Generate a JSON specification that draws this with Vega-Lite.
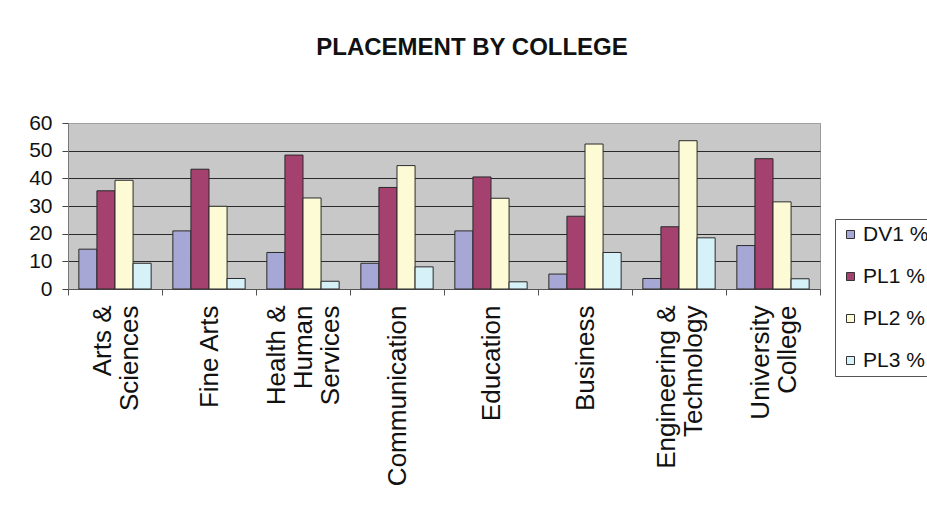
{
  "$schema": "https://vega.github.io/schema/vega-lite/v6.json",
  "width": 752,
  "height": 166,
  "autosize": {"type": "none"},
  "padding": {"left": 68, "top": 123, "right": 107, "bottom": 221},
  "background": "white",
  "title": {
    "text": "PLACEMENT BY COLLEGE",
    "font": "Liberation Sans Narrow, Arial Narrow, Liberation Sans",
    "fontSize": 24,
    "fontWeight": "bold",
    "color": "#111111",
    "anchor": "middle",
    "dx": 28,
    "offset": 52
  },
  "data": {
    "values": [
      {"college": "Arts & Sciences", "series": "DV1 %", "value": 14.4},
      {"college": "Arts & Sciences", "series": "PL1 %", "value": 35.5},
      {"college": "Arts & Sciences", "series": "PL2 %", "value": 39.3},
      {"college": "Arts & Sciences", "series": "PL3 %", "value": 9.3},
      {"college": "Fine Arts", "series": "DV1 %", "value": 21},
      {"college": "Fine Arts", "series": "PL1 %", "value": 43.3},
      {"college": "Fine Arts", "series": "PL2 %", "value": 29.9},
      {"college": "Fine Arts", "series": "PL3 %", "value": 3.8},
      {"college": "Health & Human Services", "series": "DV1 %", "value": 13.2},
      {"college": "Health & Human Services", "series": "PL1 %", "value": 48.4},
      {"college": "Health & Human Services", "series": "PL2 %", "value": 32.9},
      {"college": "Health & Human Services", "series": "PL3 %", "value": 2.8},
      {"college": "Communication", "series": "DV1 %", "value": 9.3},
      {"college": "Communication", "series": "PL1 %", "value": 36.7},
      {"college": "Communication", "series": "PL2 %", "value": 44.6},
      {"college": "Communication", "series": "PL3 %", "value": 8},
      {"college": "Education", "series": "DV1 %", "value": 21},
      {"college": "Education", "series": "PL1 %", "value": 40.5},
      {"college": "Education", "series": "PL2 %", "value": 32.8},
      {"college": "Education", "series": "PL3 %", "value": 2.6},
      {"college": "Business", "series": "DV1 %", "value": 5.4},
      {"college": "Business", "series": "PL1 %", "value": 26.3},
      {"college": "Business", "series": "PL2 %", "value": 52.4},
      {"college": "Business", "series": "PL3 %", "value": 13.2},
      {"college": "Engineering & Technology", "series": "DV1 %", "value": 3.8},
      {"college": "Engineering & Technology", "series": "PL1 %", "value": 22.5},
      {"college": "Engineering & Technology", "series": "PL2 %", "value": 53.6},
      {"college": "Engineering & Technology", "series": "PL3 %", "value": 18.5},
      {"college": "University College", "series": "DV1 %", "value": 15.7},
      {"college": "University College", "series": "PL1 %", "value": 47.1},
      {"college": "University College", "series": "PL2 %", "value": 31.5},
      {"college": "University College", "series": "PL3 %", "value": 3.7}
    ]
  },
  "mark": {"type": "bar", "stroke": "#2a2a2a", "strokeWidth": 1},
  "encoding": {
    "x": {
      "field": "college",
      "type": "nominal",
      "sort": null,
      "scale": {"paddingInner": 0, "paddingOuter": 0},
      "axis": {
        "title": null,
        "labelAngle": 270,
        "labelFont": "Liberation Sans",
        "labelFontSize": 26,
        "labelColor": "#111111",
        "labelLineHeight": 27,
        "labelPadding": 10,
        "labelLimit": 300,
        "tickBand": "extent",
        "tickSize": 6,
        "tickColor": "#555555",
        "domainColor": "#555555",
        "labelOffset": {
          "condition": [
            {"test": "datum.value == 'Health & Human Services'", "value": -27},
            {"test": "datum.value == 'Arts & Sciences' || datum.value == 'Engineering & Technology' || datum.value == 'University College'", "value": -13}
          ],
          "value": 0
        },
        "labelExpr": "datum.value == 'Arts & Sciences' ? ['Arts &', 'Sciences'] : datum.value == 'Health & Human Services' ? ['Health &', 'Human', 'Services'] : datum.value == 'Engineering & Technology' ? ['Engineering &', 'Technology'] : datum.value == 'University College' ? ['University', 'College'] : datum.value"
      }
    },
    "xOffset": {
      "field": "series",
      "type": "nominal",
      "scale": {"paddingInner": 0, "paddingOuter": 0.6}
    },
    "y": {
      "field": "value",
      "type": "quantitative",
      "scale": {"domain": [0, 60], "nice": false},
      "axis": {
        "title": null,
        "values": [0, 10, 20, 30, 40, 50, 60],
        "labelFont": "Liberation Sans",
        "labelFontSize": 21,
        "labelColor": "#111111",
        "labelPadding": 10,
        "tickSize": 6,
        "tickColor": "#444444",
        "domainColor": "#777777",
        "gridColor": {
          "condition": {"test": "datum.value == 60", "value": "#a0a0a0"},
          "value": "#2a2a2a"
        },
        "gridWidth": 1
      }
    },
    "color": {
      "field": "series",
      "type": "nominal",
      "scale": {
        "domain": ["DV1 %", "PL1 %", "PL2 %", "PL3 %"],
        "range": ["#a7a7d6", "#a5416f", "#fdfbd6", "#d7f1f9"]
      },
      "legend": {
        "title": null,
        "orient": "none",
        "legendX": 767,
        "legendY": 96,
        "strokeColor": "#555555",
        "padding": 5,
        "symbolType": "square",
        "symbolSize": 64,
        "symbolStrokeColor": "#333333",
        "symbolStrokeWidth": 1,
        "labelFont": "Liberation Sans",
        "labelFontSize": 21,
        "labelColor": "#111111",
        "rowPadding": 20,
        "labelOffset": 2
      }
    }
  },
  "config": {
    "view": {"fill": "#c8c8c8", "stroke": "#9a9a9a"},
    "axis": {"gridOpacity": 1}
  }
}
